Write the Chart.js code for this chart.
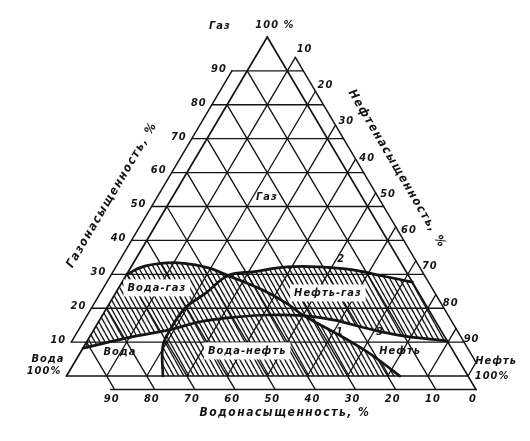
<!DOCTYPE html>
<html>
<head>
<meta charset="utf-8">
<script src="https://cdn.jsdelivr.net/npm/chart.js@4.4.1/dist/chart.umd.min.js"></script>
<style>
    html, body { margin: 0; padding: 0; background: #fff; }
    #wrap { width: 530px; height: 441px; }
</style>
</head>
<body>
<div id="wrap"><canvas id="chart"></canvas></div>
<script>
// points are [water %, gas %]; oil = 100 - water - gas
const gasTicks = [10, 20, 30, 40, 50, 60, 70, 80, 90]
const waterTicks = [90, 80, 70, 60, 50, 40, 30, 20, 10, 0]
const oilTicks = [10, 20, 30, 40, 50, 60, 70, 80, 90]

// crossing points of the boundary curves
const cross12 = [45, 29.6]
const cross13 = [32, 17.8]
const cross23 = [67.3, 13.7]

// 1 - water boundary, 2 - oil boundary, 3 - gas boundary
const curve1 = [[70, 30], [65, 32.2], [60, 33.2], [55.5, 33.4], [51.5, 32.8], [48, 31.6], cross12,
    [42, 27.8], [38, 25], [34.5, 21.5], cross13, [26.5, 12.5], [22, 7.7], [19.2, 3.7], [17, 0]]
const curve2 = [[76, 0], [71.6, 8.8], cross23, [60.5, 20], [53, 24.5], cross12, [37.7, 30.8],
    [29, 32.2], [21, 32.2], [13, 31.3], [6.5, 29.5], [0, 27.7]]
const curve3 = [[91.8, 8.2], [77.6, 11.6], cross23, [58.8, 16], [50, 17.3], [41, 18], cross13,
    [25, 16.5], [18, 14], [11, 12], [0, 10.3]]

const E = 3.8   // left tick length
const T = 4     // right / bottom tick length
const INK = '#141414'

const pt = ([w, g]) => ({x: 100 - w - g / 2, y: g})

const part = (curve, from, to) => {
    const a = curve.indexOf(from)
    const b = curve.indexOf(to)
    return a <= b ? curve.slice(a, b + 1) : curve.slice(b, a + 1).reverse()
}

const first = (c) => c[0]
const last = (c) => c[c.length - 1]

const waterGas = [...part(curve1, first(curve1), cross13), ...part(curve3, cross13, first(curve3)).slice(1)]
const oilGas = [...part(curve3, last(curve3), cross23), ...part(curve2, cross23, last(curve2)).slice(1)]
const mixed = [...part(curve2, cross23, cross12), ...part(curve1, cross12, cross13).slice(1),
    ...part(curve3, cross13, cross23).slice(1, -1)]
const waterOil = [...part(curve1, last(curve1), cross13), ...part(curve3, cross13, cross23).slice(1),
    ...part(curve2, cross23, first(curve2)).slice(1)]

const makeHatch = (cross) => {
    const c = document.createElement('canvas')
    c.width = 5
    c.height = 9
    const g = c.getContext('2d')
    g.fillStyle = '#fff'
    g.fillRect(0, 0, 5, 9)
    g.strokeStyle = '#1c1c1c'
    g.lineWidth = 1.35
    g.beginPath()
    for (const dx of [-5, 0, 5]) {
        g.moveTo(dx, 0)
        g.lineTo(dx + 5, 9)
        if (cross) {
            g.moveTo(dx + 5, 0)
            g.lineTo(dx, 9)
        }
    }
    g.stroke()
    return g.createPattern(c, 'repeat')
}

const hatch = makeHatch(false)
const crossHatch = makeHatch(true)

const datasets = []

const area = (poly, pattern) => datasets.push({
    data: poly.map(pt), fill: 'shape', backgroundColor: pattern,
    borderWidth: 0, borderColor: 'rgba(0,0,0,0)', tension: 0.4, order: 10
})
const seg = (a, b, width = 1.35) => datasets.push({
    data: [pt(a), pt(b)], borderColor: INK, borderWidth: width, fill: false, tension: 0, order: 5
})
const curve = (c) => datasets.push({
    data: c.map(pt), borderColor: INK, borderWidth: 2.7, fill: false, tension: 0.4, order: 1
})

area(waterGas, hatch)
area(oilGas, hatch)
area(waterOil, hatch)
area(mixed, crossHatch)

gasTicks.forEach(g => seg([100 - g + E, g], [-T, g]))
waterTicks.filter(w => w > 0).forEach(w => seg([w, 100 - w], [w, -T]))
oilTicks.forEach(o => seg([100 - o, 0], [-T, 100 - o + T]))
seg([0, 0], [-T, T])

// frame
seg([100, 0], [0, 100], 1.7)
seg([0, 100], [0, -T], 1.7)
seg([100, 0], [0, 0], 1.7)
seg([91, -T], [0, -T], 1.5)
seg([-T, 100 - 10 + T], [-T, T], 1.5)
seg([10 + E, 90], [90 + E, 10], 1.5)

curve(curve1)
curve(curve2)
curve(curve3)

const FONT = '"Liberation Sans Narrow", "DejaVu Sans Condensed", "DejaVu Sans", sans-serif'

const labelsPlugin = {
    id: 'labels',
    afterDatasetsDraw(chart) {
        const {ctx, scales: {x, y}} = chart
        const text = (str, X, Y, opt = {}) => {
            const {size = 11, rot = 0, spacing = 1, box = false, dx = 0, dy = 0} = opt
            ctx.save()
            ctx.translate(x.getPixelForValue(X) + dx, y.getPixelForValue(Y) + dy)
            ctx.rotate(rot * Math.PI / 180)
            ctx.font = `italic bold ${size}px ${FONT}`
            ctx.letterSpacing = spacing + 'px'
            ctx.textAlign = 'center'
            ctx.textBaseline = 'middle'
            if (box) {
                const w = ctx.measureText(str).width
                ctx.fillStyle = '#fff'
                ctx.fillRect(-w / 2 - 4, -size / 2 - 3, w + 8, size + 6)
            }
            ctx.fillStyle = INK
            ctx.fillText(str, 0, 0)
            ctx.restore()
        }

        gasTicks.forEach(g => {
            const p = pt([100 - g + E, g])
            text(String(g), p.x, p.y, {dx: -13, dy: -2})
        })
        waterTicks.forEach(w => {
            const p = pt([w, -T])
            text(String(w), p.x, p.y, {dx: -3, dy: 10})
        })
        oilTicks.forEach(o => text(String(o), 54.1 + 0.52 * o, 107.2 - 1.07 * o))

        text('Газ', 38.2, 103.2)
        text('100 %', 51.9, 103.5)
        text('Вода', -4.6, 5.0)
        text('100%', -5.6, 1.5)
        text('Нефть', 107, 4.3)
        text('100%', 106, 0)

        text('Газонасыщенность, %', 11.3, 53.4, {size: 12, rot: -59.5, spacing: 1.5})
        text('Нефтенасыщенность, %', 82.3, 61.1, {size: 12, rot: 59.5, spacing: 1.5})
        text('Водонасыщенность, %', 54.4, -10.9, {size: 12, spacing: 1.5})

        text('Газ', 49.9, 52.8)
        text('Вода-газ', 22.5, 26, {box: true})
        text('Нефть-газ', 65.1, 24.5, {box: true})
        text('Вода', 13.3, 7.1)
        text('Вода-нефть', 45, 7.4, {box: true})
        text('Нефть', 83.1, 7.4)
        text('1', 68.1, 13)
        text('2', 68.4, 34.5)
        text('3', 78.1, 13)
    }
}

new Chart(document.getElementById('chart'), {
    type: 'line',
    data: {datasets},
    options: {
        responsive: true,
        maintainAspectRatio: false,
        animation: false,
        events: [],
        layout: {padding: 0},
        plugins: {legend: {display: false}, tooltip: {enabled: false}},
        elements: {point: {radius: 0}, line: {borderCapStyle: 'round', borderJoinStyle: 'round'}},
        scales: {
            x: {type: 'linear', display: false, min: -16.56, max: 115.44},
            y: {type: 'linear', display: false, min: -19.17, max: 110.91}
        }
    },
    plugins: [labelsPlugin]
})
</script>
</body>
</html>
